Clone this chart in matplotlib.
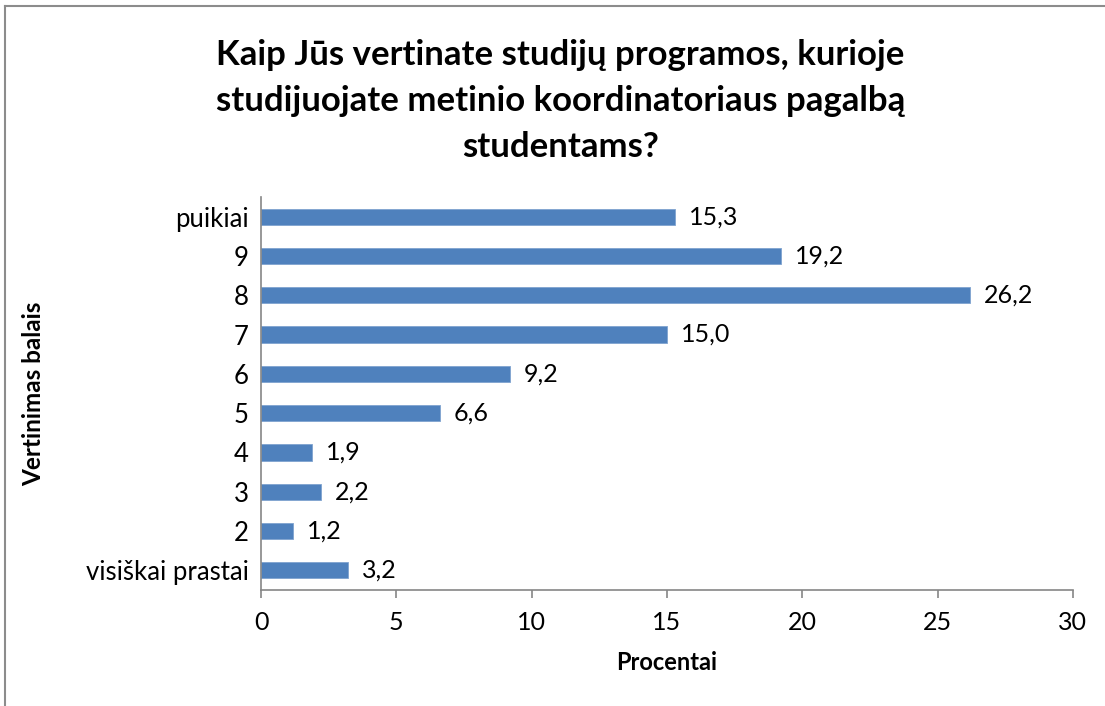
import matplotlib
matplotlib.use("Agg")
import matplotlib.pyplot as plt
from matplotlib.lines import Line2D

categories = ["visiškai prastai", "2", "3", "4", "5", "6", "7", "8", "9", "puikiai"]
values = [3.2, 1.2, 2.2, 1.9, 6.6, 9.2, 15.0, 26.2, 19.2, 15.3]
xticks = [0, 5, 10, 15, 20, 25, 30]

title = "Kaip Jūs vertinate studijų programos, kurioje\nstudijuojate metinio koordinatoriaus pagalbą\nstudentams?"

plt.rcParams["font.family"] = ["Lato", "DejaVu Sans"]

fig = plt.figure(figsize=(11.05, 7.06), dpi=100)
ax = fig.add_axes([0.2362, 0.1643, 0.971 - 0.2362, 0.721 - 0.1643])

pos = list(range(len(categories)))
ax.barh(pos, values, height=0.41, color="#4F81BD", edgecolor="#7FA3CF", linewidth=0.6)

for p, v in zip(pos, values):
    ax.annotate(f"{v:.1f}".replace(".", ","), (v, p), xytext=(10, 0),
                textcoords="offset points", va="center", ha="left", fontsize=18)

ax.set_xlim(0, 30)
ax.set_ylim(-0.5, 9.5)
ax.set_xticks(xticks)
ax.set_xticklabels([str(t) for t in xticks], fontsize=18)
ax.set_yticks(pos)
ax.set_yticklabels(categories, fontsize=18.5)

for s in ["top", "right"]:
    ax.spines[s].set_visible(False)
for s in ["left", "bottom"]:
    ax.spines[s].set_color("#868686")
    ax.spines[s].set_linewidth(1.2)
ax.tick_params(axis="x", direction="out", length=6, width=1.2, color="#868686", pad=9)
ax.tick_params(axis="y", length=0, pad=9)

ax.set_xlabel("Procentai", fontsize=17, fontweight="bold", labelpad=12)
ax.set_ylabel("Vertinimas balais", fontsize=17.5, fontweight="bold")
ax.yaxis.set_label_coords(-0.266, 0.5)

fig.text(0.507, 0.857, title, ha="center", va="center", fontsize=25,
         fontweight="bold", linespacing=1.55)

# outer chart border (only top and left visible in the reference)
fig.add_artist(Line2D([0.0045, 1.0], [0.9915, 0.9915], color="#8C8C8C", lw=1.5,
                      transform=fig.transFigure))
fig.add_artist(Line2D([0.0045, 0.0045], [0.0, 0.9915], color="#8C8C8C", lw=1.5,
                      transform=fig.transFigure))

fig.savefig("out.png", dpi=100)
